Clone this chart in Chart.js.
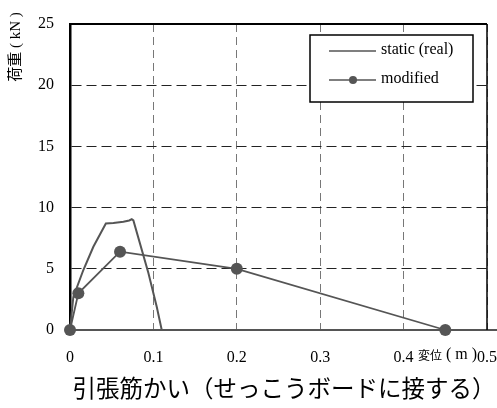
<!DOCTYPE html>
<html>
<head>
<meta charset="utf-8">
<script src="https://cdn.jsdelivr.net/npm/chart.js@4.4.1/dist/chart.umd.min.js"></script>
<style>
  html, body { margin: 0; padding: 0; background: #fff; }
  #wrap { width: 497px; height: 408px; position: relative; }
</style>
</head>
<body>
<div id="wrap"><canvas id="chart"></canvas></div>
<script>
// data
const staticX = [0, 0.004, 0.016, 0.028, 0.043, 0.052, 0.064, 0.071, 0.074, 0.076, 0.094, 0.104, 0.110, 0.52];
const staticY = [0, 2.7, 4.9, 6.8, 8.7, 8.75, 8.85, 8.95, 9.05, 8.95, 4.65, 1.9, 0, 0];
const modifiedX = [0, 0.01, 0.06, 0.2, 0.45];
const modifiedY = [0, 3.0, 6.4, 5.0, 0];
const xTicks = [0, 0.1, 0.2, 0.3, 0.4, 0.5];
const yTicks = [0, 5, 10, 15, 20, 25];
const seriesNames = ["static (real)", "modified"];
const xTitleJa = "変位";
const xTitleUnit = " ( m )";
const yTitle = "荷重 ( kN )";
const chartTitle = "引張筋かい（せっこうボードに接する）";

const grey = "#555555";
const serif = "'Liberation Serif', 'Noto Sans CJK JP', serif";
const cjk = "'Noto Sans CJK JP', sans-serif";

function toPoints(xs, ys) {
  return xs.map((x, i) => ({ x: x, y: ys[i] }));
}

// frame, legend and titles drawn on top
const extras = {
  id: "extras",
  afterDraw(chart) {
    const ctx = chart.ctx;
    const a = chart.chartArea;
    ctx.save();
    // frame: top and right solid
    ctx.strokeStyle = "#000";
    ctx.lineWidth = 2;
    ctx.beginPath();
    ctx.moveTo(a.left, a.top);
    ctx.lineTo(a.right, a.top);
    ctx.stroke();
    ctx.lineWidth = 1.5;
    ctx.beginPath();
    ctx.moveTo(a.right, a.top);
    ctx.lineTo(a.right, a.bottom);
    ctx.stroke();

    // legend box
    const bx = 310, by = 35, bw = 163, bh = 67;
    ctx.fillStyle = "#fff";
    ctx.fillRect(bx, by, bw, bh);
    ctx.lineWidth = 1.5;
    ctx.strokeStyle = "#000";
    ctx.strokeRect(bx, by, bw, bh);
    const rows = [51, 80];
    chart.data.datasets.forEach((ds, i) => {
      const y = rows[i];
      ctx.strokeStyle = grey;
      ctx.lineWidth = 1.5;
      ctx.beginPath();
      ctx.moveTo(329, y);
      ctx.lineTo(376, y);
      ctx.stroke();
      if (ds.pointRadius > 0) {
        ctx.fillStyle = grey;
        ctx.beginPath();
        ctx.arc(353, y, 4, 0, Math.PI * 2);
        ctx.fill();
      }
      ctx.fillStyle = "#000";
      ctx.font = "16px " + serif;
      ctx.textAlign = "left";
      ctx.textBaseline = "middle";
      ctx.fillText(ds.label, 381, y - 1);
    });

    // axis titles
    ctx.fillStyle = "#000";
    ctx.textAlign = "left";
    ctx.textBaseline = "middle";
    ctx.font = "12px " + cjk;
    ctx.fillText(xTitleJa, 418, 355);
    ctx.font = "16px " + serif;
    ctx.fillText(xTitleUnit, 442, 355);

    ctx.save();
    ctx.translate(16, 47);
    ctx.rotate(-Math.PI / 2);
    ctx.textAlign = "center";
    ctx.font = "15px " + serif;
    ctx.fillText(yTitle, 0, 0);
    ctx.restore();

    // caption
    ctx.font = "23.5px " + serif;
    ctx.textAlign = "center";
    ctx.fillText(chartTitle, 284, 391);
    ctx.restore();
  }
};

new Chart(document.getElementById("chart"), {
  type: "scatter",
  data: {
    datasets: [
      {
        label: seriesNames[0],
        data: toPoints(staticX, staticY),
        showLine: true,
        borderColor: grey,
        borderWidth: 2,
        pointRadius: 0,
        clip: false,
        order: 2
      },
      {
        label: seriesNames[1],
        data: toPoints(modifiedX, modifiedY),
        showLine: true,
        borderColor: grey,
        backgroundColor: grey,
        borderWidth: 1.8,
        pointRadius: 6,
        pointBorderWidth: 0,
        clip: false,
        order: 1
      }
    ]
  },
  options: {
    responsive: true,
    maintainAspectRatio: false,
    animation: false,
    layout: { padding: { top: 24, right: 10, left: 0, bottom: 0 } },
    plugins: {
      legend: { display: false },
      tooltip: { enabled: false }
    },
    scales: {
      x: {
        type: "linear",
        min: 0,
        max: 0.5,
        afterFit(s) { s.height = 78; s.paddingLeft = 0; s.paddingRight = 0; },
        afterBuildTicks(s) { s.ticks = xTicks.map(v => ({ value: v })); },
        ticks: {
          padding: 18,
          color: "#000",
          font: { family: serif, size: 16 },
          callback: v => String(v)
        },
        grid: {
          color: "#777",
          lineWidth: 1,
          drawTicks: false
        },
        border: { display: true, color: grey, width: 2, dash: [8, 5] }
      },
      y: {
        min: 0,
        max: 25,
        afterFit(s) { s.width = 70; s.paddingTop = 0; s.paddingBottom = 0; },
        afterBuildTicks(s) { s.ticks = yTicks.map(v => ({ value: v })); },
        ticks: {
          padding: 16,
          color: "#000",
          font: { family: serif, size: 16 }
        },
        grid: {
          color: "#222",
          lineWidth: 1,
          drawTicks: false
        },
        border: { display: true, color: "#000", width: 2.5, dash: [10, 5] }
      }
    }
  },
  plugins: [extras]
});
</script>
</body>
</html>
